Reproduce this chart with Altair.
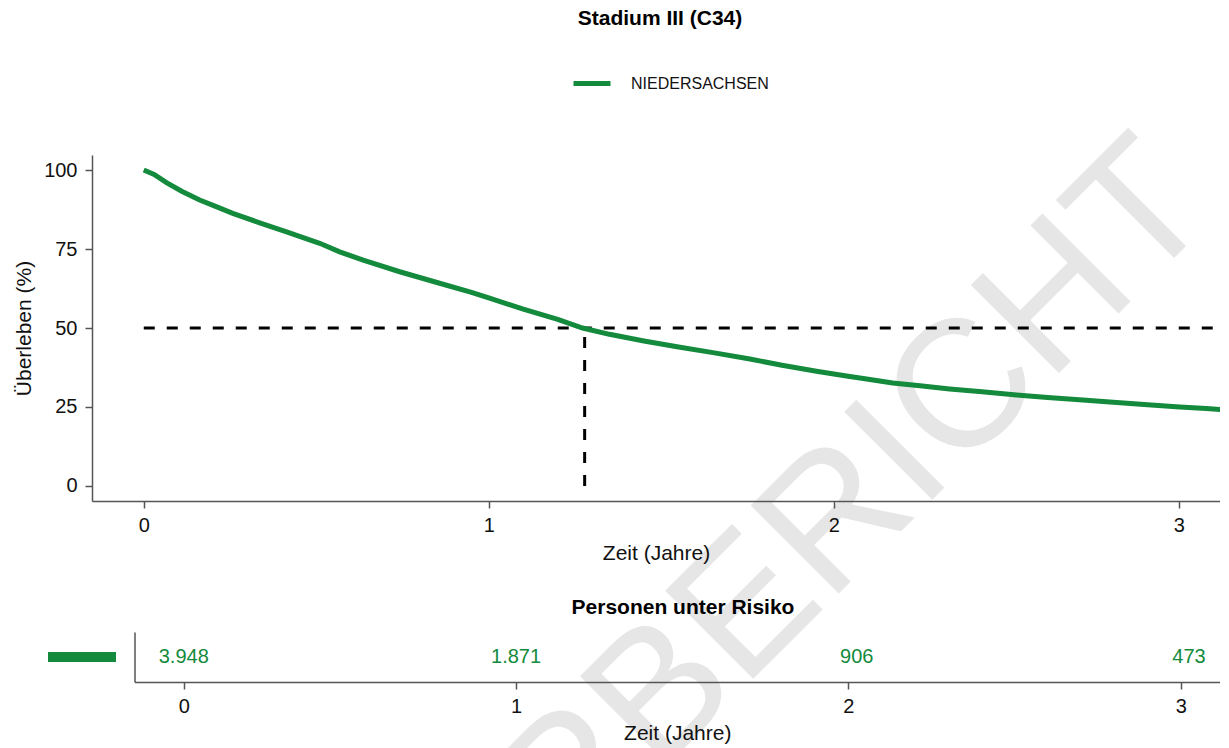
import altair as alt
import pandas as pd

# ---------------- data ----------------
times = [0, 0.03, 0.066, 0.11, 0.162, 0.21, 0.258, 0.336, 0.414, 0.51, 0.568,
         0.636, 0.742, 0.85, 0.95, 1.0, 1.1, 1.2, 1.272, 1.35, 1.45, 1.55,
         1.65, 1.757, 1.85, 1.95, 2.037, 2.1, 2.171, 2.25, 2.336, 2.43, 2.53,
         2.62, 2.722, 2.82, 2.91, 3.003, 3.08, 3.15, 3.2]
surv = [100, 98.6, 96.0, 93.3, 90.5, 88.4, 86.3, 83.3, 80.4, 76.8, 74.1,
        71.5, 67.8, 64.4, 61.3, 59.5, 56.0, 52.7, 50.0, 48.0, 45.9, 44.0,
        42.2, 40.2, 38.2, 36.3, 34.8, 33.8, 32.6, 31.7, 30.7, 29.8, 28.8,
        28.0, 27.2, 26.4, 25.7, 25.0, 24.5, 24.0, 23.7]
region = "NIEDERSACHSEN"
median_time = 1.278
median_level = 50
risk_times = [0, 1, 2, 3]
risk_counts = [3948, 1871, 906, 473]
x_ticks = [0, 1, 2, 3]
y_ticks = [0, 25, 50, 75, 100]
watermark = "MUSTERBERICHT"
main_title = "Stadium III (C34)"
risk_title = "Personen unter Risiko"
x_title = "Zeit (Jahre)"
y_title = "Überleben (%)"

# ---------------- style / layout ----------------
GREEN = "#138a3c"
FONT = "Liberation Sans"
AX = "#555555"
WM_COLOR = "#e6e6e6"
W = 1128
H_MAIN = 475          # upper drawing area (also clips the watermark)
Y_RANGE = [381, 35]   # pixel band of the survival axis inside it
H_RISK = 153          # lower drawing area
ROW_RANGE = [87, 37]  # pixel band of the risk row inside it
RISK_X0 = 42.5        # where the risk table's axes start
WM_X, WM_Y = 1089, 54.7   # watermark anchor, relative to upper area

km = pd.DataFrame({"t": times, "s": surv, "region": region})
med = pd.DataFrame({"t0": [0], "t1": [3.4], "tm": [median_time],
                    "s": [median_level], "s0": [0]})
risk = pd.DataFrame({
    "t": risk_times,
    "label": [f"{n:,}".replace(",", ".") for n in risk_counts],
    "row": [0.5] * len(risk_times),
})
wm = pd.DataFrame({"w": [watermark]})

axis_common = dict(grid=False, domainColor=AX, domainWidth=1.5, tickColor=AX,
                   tickWidth=1.5, tickSize=7, labelFontSize=20, labelColor="#111",
                   labelFont=FONT, titleFont=FONT, titleFontSize=21,
                   titleFontWeight="normal", titleColor="#111", zindex=1)

x_scale_main = alt.Scale(domain=[-0.150, 3.1196], nice=False, zero=False)
y_scale_main = alt.Scale(domain=[-4.75, 104.75], range=Y_RANGE, nice=False,
                         zero=False)


def xm(field):
    return alt.X(field, type="quantitative", scale=x_scale_main,
                 axis=alt.Axis(values=x_ticks, format="d", title=x_title,
                               labelPadding=7, titlePadding=7,
                               offset=-(H_MAIN - Y_RANGE[0]), **axis_common))


def ym(field):
    return alt.Y(field, type="quantitative", scale=y_scale_main,
                 axis=alt.Axis(values=y_ticks, format="d", title=y_title,
                               labelPadding=8, titlePadding=9, **axis_common))


def wm_mark(dy):
    return alt.Chart(wm).mark_text(
        angle=315, align="right", baseline="middle", fontSize=181, font=FONT,
        color=WM_COLOR, clip=True
    ).encode(text="w:N", x=alt.value(WM_X), y=alt.value(WM_Y + dy))


hline = alt.Chart(med).mark_rule(
    color="black", strokeWidth=3, strokeDash=[11, 12], clip=True
).encode(x=xm("t0"), x2="t1:Q", y=ym("s"))

vline = alt.Chart(med).mark_rule(
    color="black", strokeWidth=3, strokeDash=[11, 12]
).encode(x=xm("tm"), y=ym("s0"), y2="s:Q")

curve = alt.Chart(km).mark_line(strokeWidth=5, clip=True).encode(
    x=xm("t"), y=ym("s"),
    color=alt.Color("region:N",
                    scale=alt.Scale(domain=[region], range=[GREEN]),
                    legend=alt.Legend(orient="none", legendX=479, legendY=-57.5,
                                      title=None, symbolType="stroke",
                                      symbolSize=1369, symbolStrokeWidth=5,
                                      labelFontSize=16, labelFont=FONT,
                                      labelColor="#111", labelOffset=18,
                                      padding=0)),
)

main = alt.layer(wm_mark(0), hline, vline, curve).properties(
    width=W, height=H_MAIN,
    title=alt.Title(main_title, font=FONT, fontSize=21, fontWeight="bold",
                    color="black", anchor="middle", frame="group", offset=91,
                    dx=4),
)

x_risk = alt.X("t:Q", scale=alt.Scale(domain=[-0.1484, 3.1182],
                                      range=[RISK_X0, W], nice=False,
                                      zero=False),
               axis=alt.Axis(values=x_ticks, format="d", title=x_title,
                             labelPadding=7, titlePadding=6,
                             offset=-(H_RISK - ROW_RANGE[0]), **axis_common))
y_risk = alt.Y("row:Q", scale=alt.Scale(domain=[0, 1], range=ROW_RANGE,
                                        nice=False, zero=False),
               axis=alt.Axis(title=None, labels=False, ticks=False, grid=False,
                             domainColor=AX, domainWidth=1.5, offset=-RISK_X0,
                             zindex=1))

risk_text = alt.Chart(risk).mark_text(
    fontSize=20, font=FONT, color=GREEN, align="right", baseline="middle",
    dx=25
).encode(x=x_risk, y=y_risk, text="label:N")

swatch = alt.Chart(risk.head(1)).mark_rule(strokeWidth=10, color=GREEN).encode(
    x=alt.value(-44), x2=alt.value(24), y=y_risk)

risk_chart = alt.layer(wm_mark(-H_MAIN), risk_text, swatch).properties(
    width=W, height=H_RISK,
    title=alt.Title(risk_title, font=FONT, fontSize=21, fontWeight="bold",
                    color="black", anchor="middle", frame="group", offset=0,
                    dx=27, dy=22.5),
)

chart = alt.vconcat(main, risk_chart, spacing=0, bounds="flush").properties(
    padding={"left": 5, "top": 0, "right": 0, "bottom": 0}
).configure(font=FONT, view=alt.ViewConfig(stroke=None))

chart.save("out.html", embed_options={"renderer": "svg", "actions": False})
